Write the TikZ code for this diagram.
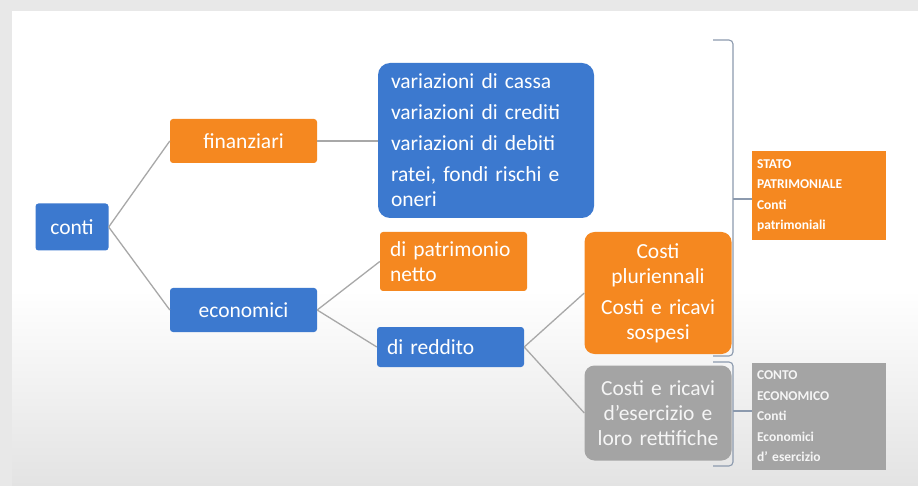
\documentclass[tikz,border=0pt]{standalone}
\usepackage{fontspec}
\setmainfont{Carlito}[WordSpace=0.75]
\usepackage{xcolor}
\usepackage{tikz}
\usetikzlibrary{calc}

\definecolor{slideblue}{RGB}{60,121,207}
\definecolor{slideorange}{RGB}{245,136,32}
\definecolor{slidegray}{RGB}{164,164,164}
\definecolor{linkgray}{RGB}{168,168,168}
\definecolor{bracegray}{RGB}{140,154,174}

\tikzset{
  box/.style = {inner sep=0pt, text=white, font=\fontsize{21.5}{25}\selectfont},
  bluebox/.style = {box, fill=slideblue, rounded corners=3pt},
  orangebox/.style = {box, fill=slideorange, rounded corners=3pt},
  bigbox/.style = {box, rounded corners=10pt, align=center, text width=140pt},
  tagbox/.style = {inner sep=0pt, text=white, align=left, text width=124pt,
    minimum width=134pt, font=\fontsize{13.5}{20.5}\selectfont\bfseries},
  link/.style = {draw=linkgray, line width=1.3pt},
  bracket/.style = {draw=bracegray, line width=1.1pt, rounded corners=4pt}
}

\begin{document}
\begin{tikzpicture}[x=1pt,y=-1pt]
  %%% slide background
  \useasboundingbox (0,0) rectangle (918,486);
  \fill[gray!18] (0,0) rectangle (918,486);
  \fill[white] (12,11) rectangle (918,486);
  \shade[top color=white, bottom color=gray!22] (12,290) rectangle (918,486);
  %%% first level
  \node[bluebox, minimum width=73pt, minimum height=47pt] (conti) at (72,227) {conti};
  \node[orangebox, minimum width=147pt, minimum height=44pt] (fin) at (243.5,141) {finanziari};
  \node[bluebox, minimum width=147pt, minimum height=44pt] (eco) at (243.5,310) {economici};
  %%% second level
  \node[bluebox, rounded corners=12pt, minimum width=216pt, minimum height=155pt,
    align=left, text width=190pt] (var) at (486,140.5)
    {variazioni di cassa\\[6pt] variazioni di crediti\\[6pt] variazioni di debiti\\[6pt]
     ratei, fondi rischi e\\ oneri};
  \node[orangebox, minimum width=147pt, minimum height=59pt, align=left,
    text width=127pt] (pn) at (453.5,261.5) {di patrimonio\\ netto};
  \node[bluebox, minimum width=147pt, minimum height=40pt, align=left,
    text width=127pt] (red) at (450.5,347) {di reddito};
  %%% third level
  \node[bigbox, fill=slideorange, minimum width=147pt, minimum height=122pt] (plur) at (658,293)
    {Costi\\ pluriennali\\[6pt] Costi e ricavi\\ sospesi};
  \node[bigbox, fill=slidegray, text=white!92!gray, minimum width=147pt, minimum height=95pt] (eser) at (658,413)
    {Costi e ricavi\\ d'esercizio e\\ loro rettifiche};
  %%% summary boxes
  \node[tagbox, fill=slideorange, minimum height=89pt] (stato) at (819,195.5)
    {STATO\\ PATRIMONIALE\\ Conti\\ patrimoniali};
  \node[tagbox, fill=slidegray, text=white!92!gray, minimum height=107pt] (conto) at (819,416.5)
    {CONTO\\ ECONOMICO\\ Conti\\ Economici\\ d' esercizio};
  %%% connectors
  \draw[link] (conti.east) -- (fin.west);
  \draw[link] (conti.east) -- (eco.west);
  \draw[link] (fin.east) -- (fin.east -| var.west);
  \draw[link] (eco.east) -- (pn.west);
  \draw[link] (eco.east) -- (red.west);
  \draw[link] (red.east) -- (plur.west);
  \draw[link] (red.east) -- (eser.west);
  %%% brackets
  \coordinate (sptip) at (733,199);
  \coordinate (cetip) at (733,411);
  \draw[bracket] (713,40) -- (733,40) -- (733,356) -- (713,356);
  \draw[bracket] (713,362) -- (733,362) -- (733,466) -- (713,466);
  \draw[bracket] (sptip) -- (sptip -| stato.west);
  \draw[bracket] (cetip) -- (cetip -| conto.west);
\end{tikzpicture}
\end{document}
